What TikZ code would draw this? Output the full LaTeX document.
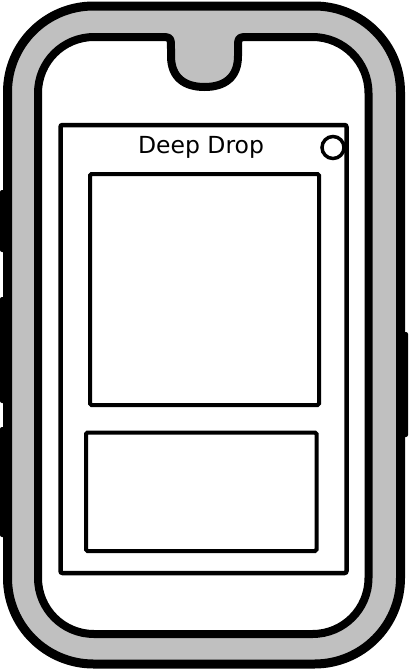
\documentclass[tikz,border=0pt]{standalone}
\usepackage{fontspec}
\setmainfont{DejaVu Sans}
\definecolor{bandgray}{RGB}{192,192,192}
\tikzset{
  sidebutton/.style={fill=black, rounded corners=2pt},
  screenbox/.style={draw=black, line width=4pt, fill=white, rounded corners=1.5pt},
}
\begin{document}
\begin{tikzpicture}[x=1pt,y=-1pt]
\useasboundingbox (0,0) rectangle (408,672);
% side buttons
\path[sidebutton] (0,190) rectangle (12,252);
\path[sidebutton] (0,297) rectangle (12,403);
\path[sidebutton] (0,427) rectangle (12,537);
\path[sidebutton] (396,332) rectangle (408,437);
% outer body
\draw[line width=9pt, fill=bandgray, rounded corners=86pt] (7.5,6) rectangle (400.5,664);
% inner face with notch
\draw[line width=8pt, fill=white, line join=round]
  (38,93) .. controls (38,62) and (63,37) .. (94,37) -- (159,37)
  .. controls (171,37) .. (171,49) -- (171,56)
  .. controls (171,78) and (185,87) .. (204.5,87)
  .. controls (224,87) and (238,78) .. (238,56) -- (238,49)
  .. controls (238,37) .. (250,37) -- (312.5,37)
  .. controls (343.5,37) and (368.5,62) .. (368.5,93) -- (368.5,578)
  .. controls (368.5,609) and (343.5,634) .. (312.5,634) -- (94,634)
  .. controls (63,634) and (38,609) .. (38,578) -- cycle;
% screen frame
\node[draw=black, line width=4.5pt, minimum width=286pt, minimum height=448pt, inner sep=0pt, rounded corners=2pt] (frame) at (203.5,349) {};
\node[font=\fontsize{23.5}{27}\selectfont, anchor=base, inner sep=0pt] (title) at (201,153.5) {Deep Drop};
\node[draw=black, line width=3.5pt, circle, minimum size=22pt, inner sep=0pt] (dot) at (333,147.5) {};
\node[screenbox, minimum width=229pt, minimum height=231pt, inner sep=0pt] (main) at (204.5,289.5) {};
\node[screenbox, minimum width=230.5pt, minimum height=118.5pt, inner sep=0pt] (lower) at (201.25,491.75) {};
\end{tikzpicture}
\end{document}
